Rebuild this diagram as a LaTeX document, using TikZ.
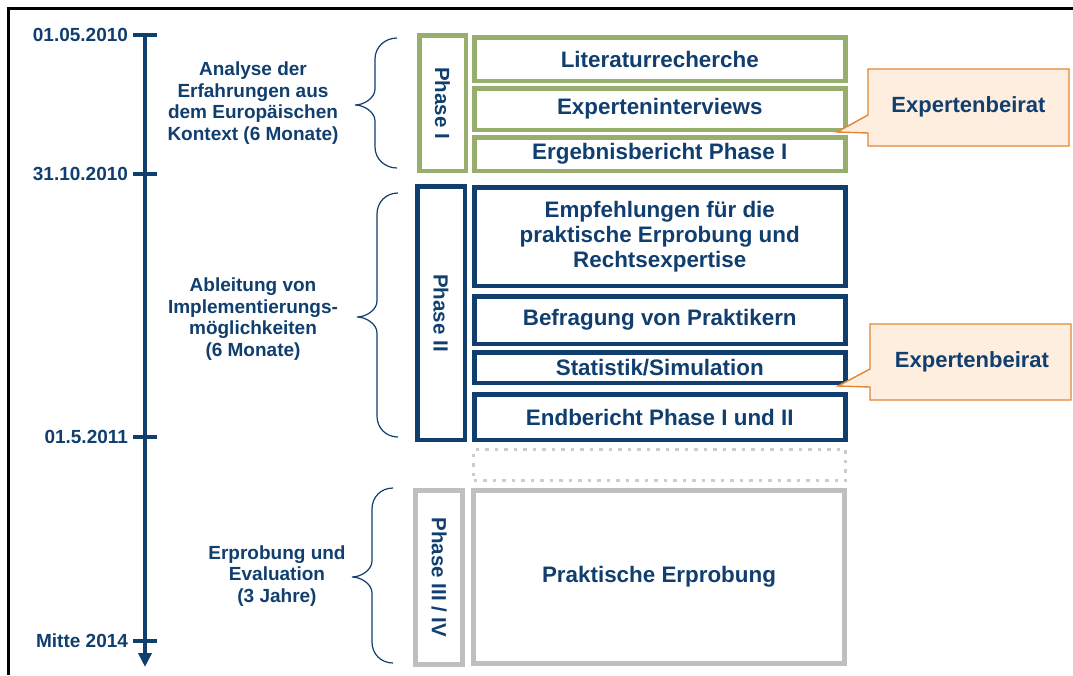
\documentclass[tikz,border=0pt]{standalone}
\usepackage{fontspec}
\setmainfont{Liberation Sans}
\usetikzlibrary{arrows.meta}

\definecolor{navy}{RGB}{16,62,110}
\definecolor{phgreen}{RGB}{152,174,108}
\definecolor{phgray}{RGB}{191,191,191}
\definecolor{dotgray}{RGB}{204,204,204}
\definecolor{calloutfill}{RGB}{253,238,224}
\definecolor{calloutline}{RGB}{226,134,52}

% curly brace: #1 x of the ends, #2 x of the spine, #3 x of the tip,
% #4 y of the top end, #5 y of the tip, #6 y of the bottom end
\newcommand{\phbrace}[6]{%
  \draw[bracestyle] (#1,#4) .. controls ({#1-12},#4) and (#2,{#4+9}) .. (#2,{#4+21})
    -- (#2,{#5-16}) .. controls (#2,{#5-7}) and ({#3+9},#5) .. (#3,#5)
    .. controls ({#3+9},#5) and (#2,{#5+7}) .. (#2,{#5+16})
    -- (#2,{#6-21}) .. controls (#2,{#6-9}) and ({#1-12},#6) .. (#1,#6);}

\begin{document}
\begin{tikzpicture}[x=1pt,y=-1pt,
  every node/.style={text=navy, inner sep=0pt, outer sep=0pt},
  boxtext/.style={font=\bfseries\fontsize{22.4}{25}\selectfont, align=center},
  sidetext/.style={font=\bfseries\fontsize{19}{21.5}\selectfont, align=center},
  datetext/.style={font=\bfseries\fontsize{19}{21}\selectfont, anchor=east},
  phasetext/.style={font=\bfseries\fontsize{20.5}{22}\selectfont, rotate=-90},
  greenbox/.style={draw=phgreen, line width=4.5pt, boxtext},
  bluebox/.style={draw=navy, line width=4.5pt, boxtext},
  graybox/.style={draw=phgray, line width=5pt, boxtext},
  axis/.style={draw=navy, line width=4pt},
  bracestyle/.style={draw=navy, line width=1.2pt},
  callout/.style={fill=calloutfill, draw=calloutline, line width=1.4pt, line join=miter},
  callouttext/.style={font=\bfseries\fontsize{22}{24}\selectfont},
]
\useasboundingbox (0,0) rectangle (1073,675);

% frame
\draw[line width=2.5pt] (8.5,675) -- (8.5,8.5) -- (1073,8.5);

% time axis
\coordinate (tstart) at (145,35);
\coordinate (tend) at (145,667);
\draw[axis, -{Triangle[width=13pt,length=14pt]}] (tstart) -- (tend);
\foreach \ty in {35,174,437,641}
  \draw[axis] (133,\ty) -- (157,\ty);
\node[datetext] (d1) at (128,35) {01.05.2010};
\node[datetext] (d2) at (128,174) {31.10.2010};
\node[datetext] (d3) at (128,437) {01.5.2011};
\node[datetext] (d4) at (128,641) {Mitte 2014};

% period descriptions
\node[sidetext] (s1) at (253,103) {Analyse der\\Erfahrungen aus\\dem Europ\"aischen\\Kontext (6 Monate)};
\node[sidetext] (s2) at (253,319) {Ableitung von\\Implementierungs-\\m\"oglichkeiten\\(6 Monate)};
\node[sidetext] (s3) at (277,576) {Erprobung und\\Evaluation\\(3 Jahre)};

% braces
\phbrace{397}{375}{355}{38}{105}{168}
\phbrace{398}{377}{357}{193}{317}{437}
\phbrace{393}{372}{352}{488}{577}{663}

% phase I
\node[greenbox, minimum width=46.5pt, minimum height=135.5pt] (ph1) at (442.5,103) {};
\node[phasetext] (ph1t) at (ph1.center) {Phase I};
\node[greenbox, minimum width=371pt, minimum height=43.5pt] (lit) at (659.75,59) {Literaturrecherche};
\node[greenbox, minimum width=371pt, minimum height=41.5pt] (exp) at (659.75,109) {Experteninterviews};
\node[greenbox, minimum width=371pt, minimum height=33.5pt] (erg) at (659.75,154) {Ergebnisbericht Phase I};

% phase II
\node[bluebox, minimum width=47.5pt, minimum height=253.5pt] (ph2) at (441,313) {};
\node[phasetext] (ph2t) at (ph2.center) {Phase II};
\node[bluebox, minimum width=371pt, minimum height=98.5pt] (emp) at (659.75,236.5) {Empfehlungen f\"ur die\\praktische Erprobung und\\Rechtsexpertise};
\node[bluebox, minimum width=371pt, minimum height=47.5pt] (bef) at (659.75,320) {Befragung von Praktikern};
\node[bluebox, minimum width=371pt, minimum height=30.5pt] (sta) at (659.75,367.5) {Statistik/Simulation};
\node[bluebox, minimum width=371pt, minimum height=45.5pt] (end) at (659.75,417) {Endbericht Phase I und II};

% placeholder between phase II and III
\node[draw=dotgray, line width=3.5pt, dash pattern=on 3.5pt off 6pt,
      minimum width=372pt, minimum height=31pt] (gap) at (659.5,465) {};

% phase III / IV
\node[graybox, minimum width=47pt, minimum height=174pt] (ph3) at (439,577.5) {};
\node[phasetext] (ph3t) at (ph3.center) {Phase III / IV};
\node[graybox, minimum width=371pt, minimum height=173pt] (pra) at (659,577) {Praktische Erprobung};

% advisory board callouts
\coordinate (tip1) at (837,132);
\draw[callout] (868,69) -- (1069,69) -- (1069,146) -- (868,146) -- (868,133) -- (tip1) -- (868,115) -- cycle;
\node[callouttext] (cb1) at (968.5,107) {Expertenbeirat};

\coordinate (tip2) at (838,386);
\draw[callout] (870,324) -- (1071,324) -- (1071,400) -- (870,400) -- (870,387) -- (tip2) -- (870,369) -- cycle;
\node[callouttext] (cb2) at (972,362) {Expertenbeirat};
\end{tikzpicture}
\end{document}
